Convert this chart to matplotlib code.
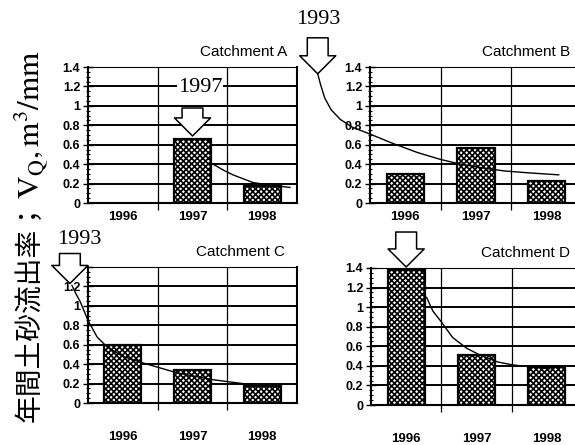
import numpy as np
import matplotlib
matplotlib.use('Agg')
import matplotlib.pyplot as plt
from matplotlib.ticker import MultipleLocator, FixedLocator

W, H = 575, 445

years = ['1996', '1997', '1998']

# annual sediment yield V_Q (m3/mm) for each catchment
vq_A = [np.nan, 0.66, 0.18]
vq_B = [0.30, 0.57, 0.23]
vq_C = [0.60, 0.34, 0.18]
vq_D = [1.38, 0.51, 0.39]

# decay curves (x in category units, 1996 = 0)
curve_A_x = [1.27, 1.44, 1.58, 1.87, 2.06, 2.40]
curve_A_y = [0.41, 0.34, 0.29, 0.21, 0.19, 0.16]
curve_B_x = [-1.24, -1.20, -1.14, -1.05, -0.92, -0.75, -0.5, -0.2, 0.17, 0.49, 0.78, 1.1, 1.4, 1.75, 2.17]
curve_B_y = [1.33, 1.22, 1.08, 0.96, 0.86, 0.78, 0.71, 0.62, 0.52, 0.45, 0.40, 0.36, 0.33, 0.31, 0.29]
curve_C_x = [-0.73, -0.67, -0.61, -0.5, -0.37, -0.23, 0.0, 0.30, 0.78, 1.29, 1.72, 2.25]
curve_C_y = [1.21, 1.12, 1.04, 0.85, 0.68, 0.58, 0.48, 0.41, 0.31, 0.24, 0.20, 0.165]
curve_D_x = [0.29, 0.38, 0.51, 0.66, 0.86, 1.05, 1.30, 1.51, 1.76, 2.04]
curve_D_y = [1.10, 0.96, 0.84, 0.69, 0.58, 0.51, 0.44, 0.41, 0.39, 0.37]

plt.rcParams['hatch.linewidth'] = 1.2
plt.rcParams['mathtext.fontset'] = 'stix'

fig = plt.figure(figsize=(W / 100, H / 100), dpi=100)


def px_axes(left, top, right, bottom):
    return fig.add_axes([left / W, 1 - bottom / H, (right - left) / W, (bottom - top) / H])


def setup(ax, vals, cx, cy, name, label_pad, title_x):
    x = np.arange(3)
    ax.set_xlim(-0.5, 2.5)
    ax.set_ylim(0, 1.4)
    for y in np.arange(0.2, 1.41, 0.2):
        ax.axhline(y, color='black', lw=1.4, zorder=1)
    for xv in [0.5, 1.5]:
        ax.axvline(xv, color='black', lw=0.9, zorder=1)
    ax.bar(x, vals, width=0.53, facecolor='white', edgecolor='black',
           hatch='xxxxxx', lw=1.6, zorder=2)
    ax.plot(cx, cy, color='black', lw=1.0, zorder=3, clip_on=False)

    ax.xaxis.set_major_locator(FixedLocator(x))
    ax.xaxis.set_minor_locator(FixedLocator([0.5, 1.5]))
    ax.set_xticklabels(years, fontsize=9.5, fontweight='bold', family='Liberation Sans')
    ax.tick_params(axis='x', which='major', length=0, pad=label_pad)
    ax.tick_params(axis='x', which='minor', direction='out', length=5, width=0.9)

    ax.yaxis.set_minor_locator(MultipleLocator(0.05))
    ax.set_yticks(np.arange(0, 1.41, 0.2))
    ax.set_yticklabels(['0', '0.2', '0.4', '0.6', '0.8', '1', '1.2', '1.4'],
                       fontsize=9, fontweight='bold', family='Liberation Sans')
    ax.tick_params(axis='y', which='major', direction='inout', length=7, width=1.0, pad=2)
    ax.tick_params(axis='y', which='minor', direction='inout', length=3.5, width=0.8)
    for s in ax.spines.values():
        s.set_linewidth(1.5)
    ax.spines['top'].set_linewidth(0.8)
    ax.text(title_x, 1.11, 'Catchment ' + name, transform=ax.transAxes,
            ha='right', va='center', fontsize=11, family='Liberation Sans')


def block_arrow(ax, xy, length):
    ax.annotate('', xy=xy, xycoords='data', xytext=(0, length), textcoords='offset pixels',
                annotation_clip=False,
                arrowprops=dict(arrowstyle='simple,head_length=13,head_width=26,tail_width=15',
                                mutation_scale=1, fc='white', ec='black', lw=1.1,
                                shrinkA=0, shrinkB=0), zorder=5)


axA = px_axes(88, 67, 297, 203)
axB = px_axes(370, 67, 582, 203)
axC = px_axes(88, 267, 297, 403)
axD = px_axes(371, 268, 582, 405)

setup(axA, vq_A, curve_A_x, curve_A_y, 'A', 6, 0.952)
setup(axB, vq_B, curve_B_x, curve_B_y, 'B', 6, 0.943)
setup(axC, vq_C, curve_C_x, curve_C_y, 'C', 20, 0.943)
setup(axD, vq_D, curve_D_x, curve_D_y, 'D', 20, 0.943)

block_arrow(axA, (1, vq_A[1] + 0.03), 28)
block_arrow(axB, (curve_B_x[0], curve_B_y[0]), 36)
block_arrow(axC, (curve_C_x[0] - 0.03, curve_C_y[0] + 0.02), 30)
block_arrow(axD, (0, vq_D[0] + 0.03), 35)

serif = 'Liberation Serif'
fig.text(200 / W, 1 - 88 / H, '1997', ha='center', va='center', fontsize=16, family=serif,
         bbox=dict(facecolor='white', edgecolor='none', pad=0.5), zorder=6)
fig.text(318 / W, 1 - 20 / H, '1993', ha='center', va='center', fontsize=16, family=serif)
fig.text(79 / W, 1 - 239 / H, '1993', ha='center', va='center', fontsize=16, family=serif)

# vertical y label: Japanese part first, then the units in mathtext right above it
jp = fig.text(30 / W, 1 - 422 / H, '年間土砂流出率；', rotation=90, rotation_mode='anchor',
              ha='left', va='center', fontsize=20, family=['Noto Sans CJK JP', 'DejaVu Sans'])
fig.canvas.draw()
top = jp.get_window_extent().y1
fig.text(32 / W, (top + 1) / H, '$\\mathrm{V_Q,m^3/mm}$', rotation=90, rotation_mode='anchor',
         ha='left', va='center', fontsize=22.5)

fig.savefig('out.png', dpi=100)
